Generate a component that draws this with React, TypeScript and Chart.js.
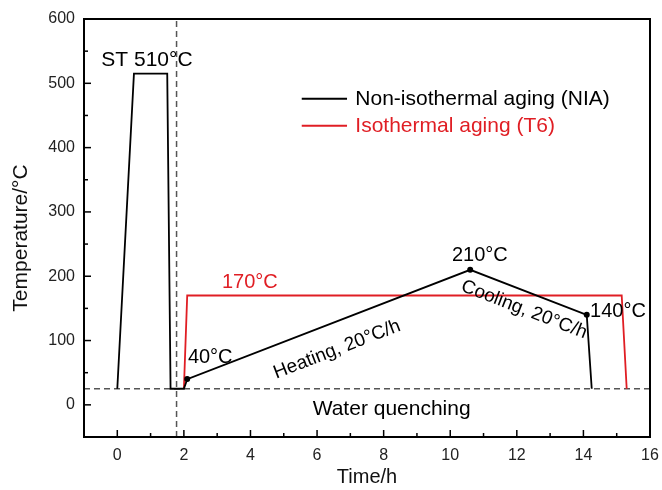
import React, { useEffect, useRef } from "react";
import { Chart, registerables } from "chart.js";

Chart.register(...registerables);

// ---- data ----
const niaTime = [0, 0.5, 1.5, 1.6, 2.0, 2.1, 10.6, 14.1, 14.25];
const niaTemp = [25, 515, 515, 25, 25, 40, 210, 140, 25];
const niaDots = [false, false, false, false, false, true, true, true, false];
const t6Time = [2.0, 2.1, 15.15, 15.3];
const t6Temp = [25, 170, 170, 25];
const roomTemp = 25;
const quenchTime = 1.78;
const xRange = [-1, 16];
const yRange = [-50, 600];
const xMajorTicks = [0, 2, 4, 6, 8, 10, 12, 14, 16];
const xMinorTicks = [1, 3, 5, 7, 9, 11, 13, 15];
const yMajorTicks = [0, 100, 200, 300, 400, 500, 600];
const yMinorTicks = [50, 150, 250, 350, 450, 550];
const seriesNames = ["Non-isothermal aging (NIA)", "Isothermal aging (T6)"];
const xTitle = "Time/h";
const yTitle = "Temperature/°C";

const BLACK = "#000000";
const RED = "#e01e24";
const DASH = "#555555";
const FONT = "'Liberation Sans', Arial, sans-serif";

type Note = {
  text: string;
  x: number;
  y: number;
  align: CanvasTextAlign;
  color: string;
  size: number;
  along?: [number, number];
};

const notes: Note[] = [
  { text: "ST 510°C", x: -0.48, y: 536, align: "left", color: BLACK, size: 21 },
  { text: "170°C", x: 3.98, y: 190, align: "center", color: RED, size: 20 },
  { text: "40°C", x: 2.12, y: 73, align: "left", color: BLACK, size: 20 },
  { text: "210°C", x: 10.89, y: 232, align: "center", color: BLACK, size: 20 },
  { text: "140°C", x: 14.2, y: 145, align: "left", color: BLACK, size: 20 },
  { text: "Heating, 20°C/h", x: 6.6, y: 86, align: "center", color: BLACK, size: 19, along: [5, 6] },
  { text: "Cooling, 20°C/h", x: 12.22, y: 148, align: "center", color: BLACK, size: 19, along: [6, 7] },
  { text: "Water quenching", x: 8.24, y: -6, align: "center", color: BLACK, size: 21 },
];

const legendPos = { x0: 5.54, x1: 6.9, xt: 7.15, y: [476, 434] };

const overlay = {
  id: "overlay",
  afterDraw(chart: any) {
    const { ctx, chartArea: a } = chart;
    const xs = chart.scales.x;
    const ys = chart.scales.y;
    ctx.save();
    // inward ticks
    ctx.strokeStyle = BLACK;
    ctx.lineWidth = 1.5;
    const tickX = (v: number, len: number) => {
      const px = xs.getPixelForValue(v);
      ctx.beginPath();
      ctx.moveTo(px, a.bottom);
      ctx.lineTo(px, a.bottom - len);
      ctx.stroke();
    };
    const tickY = (v: number, len: number) => {
      const py = ys.getPixelForValue(v);
      ctx.beginPath();
      ctx.moveTo(a.left, py);
      ctx.lineTo(a.left + len, py);
      ctx.stroke();
    };
    xMajorTicks.forEach((v) => tickX(v, 7));
    xMinorTicks.forEach((v) => tickX(v, 4));
    yMajorTicks.forEach((v) => tickY(v, 7));
    yMinorTicks.forEach((v) => tickY(v, 4));
    // frame
    ctx.lineWidth = 2;
    ctx.strokeRect(a.left, a.top, a.right - a.left, a.bottom - a.top);

    // axis titles
    ctx.fillStyle = "#111";
    ctx.textAlign = "center";
    ctx.textBaseline = "middle";
    ctx.font = `20px ${FONT}`;
    ctx.fillText(xTitle, (a.left + a.right) / 2, chart.height - 13);
    ctx.save();
    ctx.font = `21px ${FONT}`;
    ctx.translate(21, (a.top + a.bottom) / 2 + 10);
    ctx.rotate(-Math.PI / 2);
    ctx.fillText(yTitle, 0, 0);
    ctx.restore();

    // notes
    notes.forEach((n) => {
      ctx.save();
      ctx.font = `${n.size}px ${FONT}`;
      ctx.fillStyle = n.color;
      ctx.textAlign = n.align;
      ctx.textBaseline = "middle";
      const px = xs.getPixelForValue(n.x);
      const py = ys.getPixelForValue(n.y);
      ctx.translate(px, py);
      if (n.along) {
        const [i, j] = n.along;
        const dx = xs.getPixelForValue(niaTime[j]) - xs.getPixelForValue(niaTime[i]);
        const dy = ys.getPixelForValue(niaTemp[j]) - ys.getPixelForValue(niaTemp[i]);
        ctx.rotate(Math.atan2(dy, dx));
      }
      ctx.fillText(n.text, 0, 0);
      ctx.restore();
    });

    // legend
    const colors = [BLACK, RED];
    seriesNames.forEach((name, i) => {
      const py = ys.getPixelForValue(legendPos.y[i]);
      ctx.strokeStyle = colors[i];
      ctx.lineWidth = 1.8;
      ctx.beginPath();
      ctx.moveTo(xs.getPixelForValue(legendPos.x0), py);
      ctx.lineTo(xs.getPixelForValue(legendPos.x1), py);
      ctx.stroke();
      ctx.font = `21px ${FONT}`;
      ctx.fillStyle = colors[i];
      ctx.textAlign = "left";
      ctx.textBaseline = "middle";
      ctx.fillText(name, xs.getPixelForValue(legendPos.xt), py);
    });
    ctx.restore();
  },
};

export default function App() {
  const ref = useRef<HTMLCanvasElement>(null);
  useEffect(() => {
    if (!ref.current) return;
    const chart = new Chart(ref.current, {
      type: "scatter",
      data: {
        datasets: [
          {
            label: seriesNames[0],
            data: niaTime.map((t, i) => ({ x: t, y: niaTemp[i] })),
            showLine: true,
            borderColor: BLACK,
            borderWidth: 1.8,
            pointRadius: niaDots.map((d) => (d ? 3 : 0)),
            pointBackgroundColor: BLACK,
            pointBorderWidth: 0,
            order: 1,
          },
          {
            label: seriesNames[1],
            data: t6Time.map((t, i) => ({ x: t, y: t6Temp[i] })),
            showLine: true,
            borderColor: RED,
            borderWidth: 1.8,
            pointRadius: 0,
            order: 2,
          },
          {
            label: "room",
            data: [
              { x: xRange[0], y: roomTemp },
              { x: xRange[1], y: roomTemp },
            ],
            showLine: true,
            borderColor: DASH,
            borderWidth: 1.5,
            borderDash: [6, 4],
            pointRadius: 0,
            order: 3,
          },
          {
            label: "quench",
            data: [
              { x: quenchTime, y: yRange[0] },
              { x: quenchTime, y: yRange[1] },
            ],
            showLine: true,
            borderColor: DASH,
            borderWidth: 1.5,
            borderDash: [6, 4],
            pointRadius: 0,
            order: 4,
          },
        ],
      },
      options: {
        animation: false,
        responsive: false,
        layout: { padding: { top: 19, right: 12, left: 0, bottom: 0 } },
        plugins: { legend: { display: false }, tooltip: { enabled: false } },
        scales: {
          x: {
            type: "linear",
            min: xRange[0],
            max: xRange[1],
            afterBuildTicks: (s: any) => {
              s.ticks = xMajorTicks.map((v) => ({ value: v }));
            },
            afterFit: (s: any) => {
              s.height = 53;
              s.paddingLeft = 0;
              s.paddingRight = 0;
            },
            grid: { display: false, drawTicks: false, tickLength: 0 },
            border: { display: false },
            ticks: {
              autoSkip: false,
              maxRotation: 0,
              padding: 9,
              color: "#222",
              font: { family: FONT, size: 16 },
            },
            title: { display: false },
          },
          y: {
            type: "linear",
            min: yRange[0],
            max: yRange[1],
            afterBuildTicks: (s: any) => {
              s.ticks = yMajorTicks.map((v) => ({ value: v }));
            },
            afterFit: (s: any) => {
              s.width = 84;
              s.paddingTop = 0;
              s.paddingBottom = 0;
            },
            grid: { display: false, drawTicks: false, tickLength: 0 },
            border: { display: false },
            ticks: {
              autoSkip: false,
              padding: 9,
              color: "#222",
              font: { family: FONT, size: 16 },
            },
            title: { display: false },
          },
        },
      },
      plugins: [overlay],
    } as any);
    return () => chart.destroy();
  }, []);
  return (
    <div style={{ position: "absolute", left: 0, top: 0, width: 662, height: 490, background: "#fff" }}>
      <canvas ref={ref} width={662} height={490} style={{ width: 662, height: 490, display: "block" }} />
    </div>
  );
}
